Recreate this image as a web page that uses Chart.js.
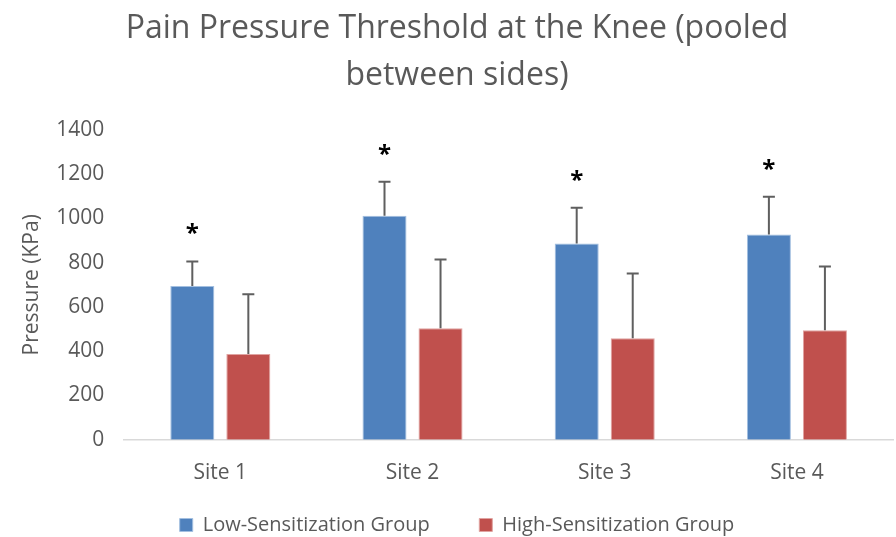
<!DOCTYPE html>
<html>
<head>
<meta charset="utf-8">
<script src="https://cdn.jsdelivr.net/npm/chart.js@4"></script>
<style>
  html, body { margin: 0; padding: 0; background: #fff; }
  #wrap { width: 896px; height: 537px; }
</style>
</head>
<body>
<div id="wrap"><canvas id="pain"></canvas></div>
<script>
const sites = ['Site 1', 'Site 2', 'Site 3', 'Site 4'];
const lowMeans = [695, 1012, 886, 927];
const lowErrors = [110, 153, 162, 171];
const highMeans = [387, 504, 459, 495];
const highErrors = [270, 310, 292, 288];
const significant = [true, true, true, true];

const grey = '#595959';
const font = "'Open Sans', 'Liberation Sans', sans-serif";

// upward-only error bars with a cap, plus the asterisks
const errorBars = {
  id: 'errorBars',
  afterDatasetsDraw(chart) {
    const ctx = chart.ctx;
    const y = chart.scales.y;
    ctx.save();
    chart.data.datasets.forEach((ds, i) => {
      const meta = chart.getDatasetMeta(i);
      meta.data.forEach((bar, j) => {
        const top = y.getPixelForValue(ds.data[j] + ds.errors[j]);
        ctx.strokeStyle = '#5f5f5f';
        ctx.lineWidth = 2;
        ctx.beginPath();
        ctx.moveTo(bar.x, bar.y);
        ctx.lineTo(bar.x, top);
        ctx.moveTo(bar.x - 6, top);
        ctx.lineTo(bar.x + 6, top);
        ctx.stroke();
        if (i === 0 && significant[j]) {
          ctx.fillStyle = '#000';
          ctx.font = 'bold 24px ' + font;
          ctx.textAlign = 'center';
          ctx.textBaseline = 'middle';
          ctx.fillText('*', bar.x, top - 27);
        }
      });
    });
    ctx.restore();
  }
};

new Chart(document.getElementById('pain'), {
  type: 'bar',
  data: {
    labels: sites,
    datasets: [
      {
        label: 'Low-Sensitization Group',
        data: lowMeans,
        errors: lowErrors,
        backgroundColor: '#4f81bd',
        borderColor: '#a3bfe0',
        borderWidth: 1
      },
      {
        label: 'High-Sensitization Group',
        data: highMeans,
        errors: highErrors,
        backgroundColor: '#c0504d',
        borderColor: '#e0a3a1',
        borderWidth: 1
      }
    ]
  },
  options: {
    responsive: true,
    maintainAspectRatio: false,
    animation: false,
    layout: { padding: { left: 21, right: 3, top: 0, bottom: -8 } },
    datasets: {
      bar: { categoryPercentage: 0.583, barPercentage: 0.786 }
    },
    plugins: {
      title: {
        display: true,
        text: ['Pain Pressure Threshold at the Knee (pooled', 'between sides)'],
        color: grey,
        font: { family: font, size: 32, weight: 'normal', lineHeight: 1.45 },
        padding: { top: 6, bottom: 31 }
      },
      legend: {
        position: 'bottom',
        labels: {
          color: grey,
          font: { family: font, size: 20 },
          boxWidth: 13,
          boxHeight: 13,
          padding: 8,
          // trailing spaces widen the gap between the two entries
          generateLabels(chart) {
            const items = Chart.defaults.plugins.legend.labels.generateLabels(chart);
            items[0].text += '        ';
            return items;
          }
        }
      },
      tooltip: { enabled: false }
    },
    scales: {
      x: {
        grid: { display: false, drawTicks: false },
        border: { color: '#d9d9d9', width: 1.5 },
        ticks: { color: grey, font: { family: font, size: 21 }, padding: 21 }
      },
      y: {
        min: 0,
        max: 1400,
        grid: { display: false, drawTicks: false },
        border: { display: false },
        ticks: {
          stepSize: 200,
          color: grey,
          font: { family: font, size: 21 },
          padding: 20,
          callback: v => String(v)
        },
        title: {
          display: true,
          text: 'Pressure (KPa)',
          color: grey,
          font: { family: font, size: 21 },
          padding: { top: -2, bottom: -8 }
        }
      }
    }
  },
  plugins: [errorBars]
});
</script>
</body>
</html>
